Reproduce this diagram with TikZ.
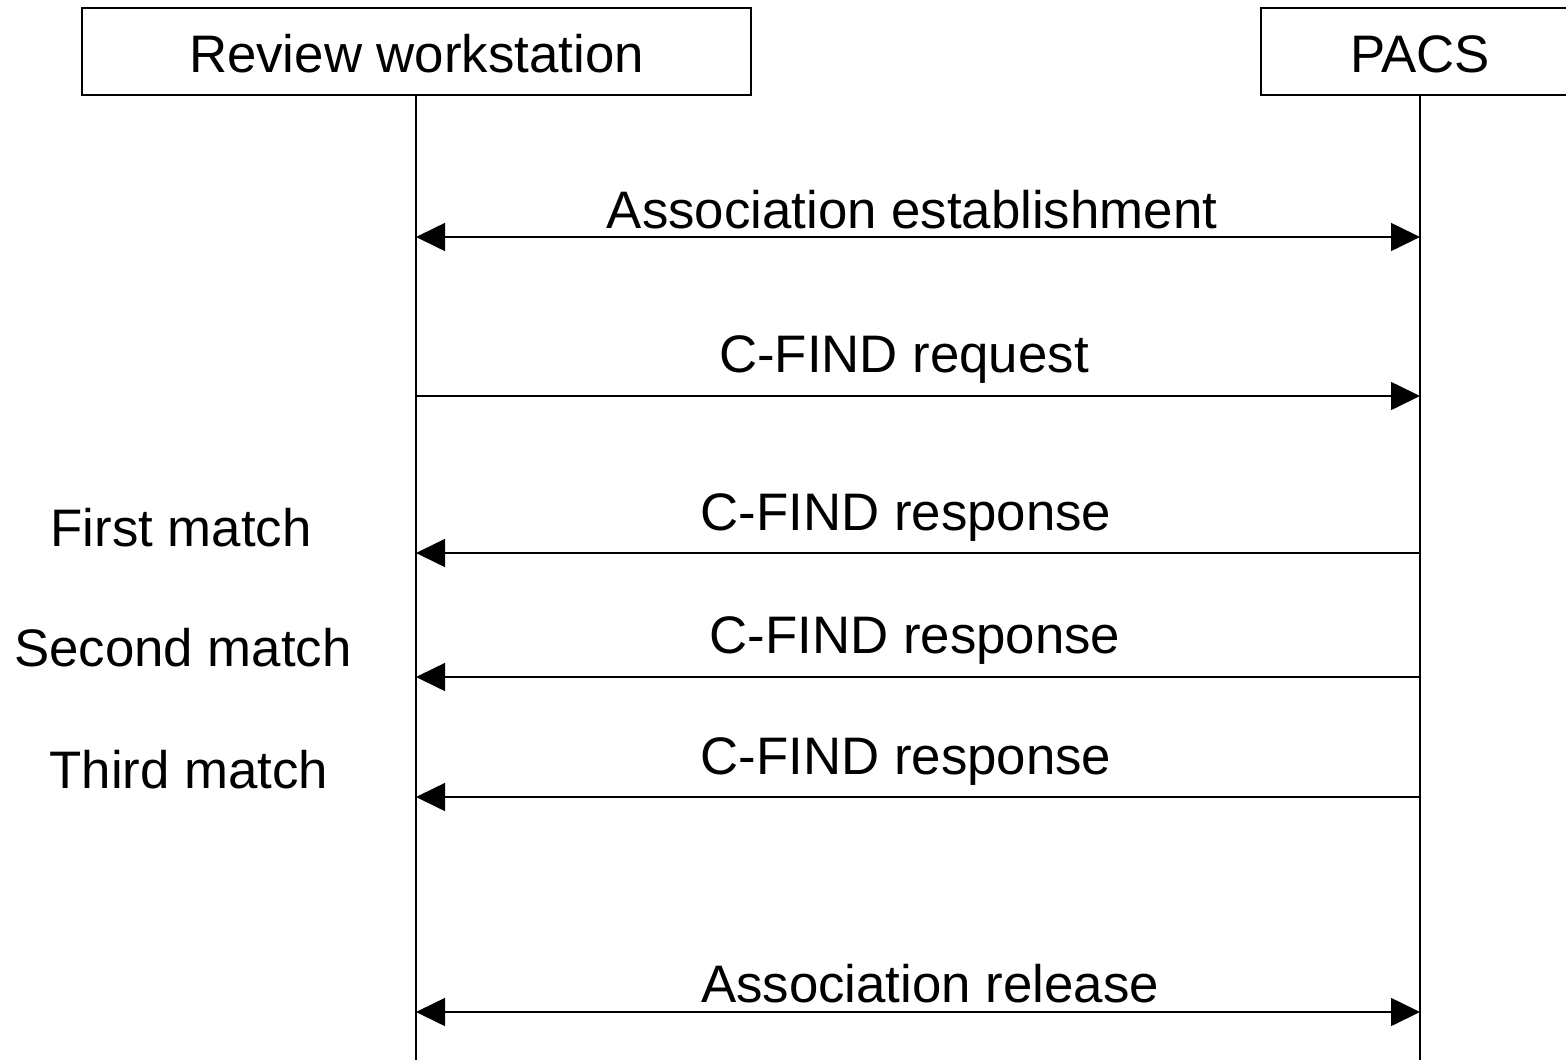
\documentclass[tikz,border=0pt]{standalone}
\usepackage{fontspec}
\setmainfont{Liberation Sans}
\usetikzlibrary{arrows.meta}
\begin{document}
\begin{tikzpicture}[x=1pt,y=-1pt,
  every node/.style={font=\fontsize{52.8}{60}\selectfont, inner sep=0pt},
  actor/.style={draw, line width=1.6pt, minimum height=87pt},
  life/.style={line width=1.6pt},
  msg/.style={line width=1.6pt, -{Triangle[length=29pt,width=28pt]}},
  bimsg/.style={line width=1.6pt, {Triangle[length=29pt,width=28pt]}-{Triangle[length=29pt,width=28pt]}},
  lbl/.style={anchor=base}]
  \useasboundingbox (0,0) rectangle (1566,1060);

  % participants
  \node[actor, minimum width=669pt] (ws) at (416.5,51.5) {};
  \node[lbl] at (416.5,72) {Review workstation};
  \node[actor, minimum width=318pt] (pacs) at (1420,51.5) {};
  \node[lbl] at (1420,72) {PACS};

  % lifelines
  \coordinate (wsend) at (416,1062);
  \coordinate (pacsend) at (1420,1062);
  \draw[life] (ws.south -| wsend) -- (wsend);
  \draw[life] (pacs.south -| pacsend) -- (pacsend);

  % message anchor points on the lifelines
  \foreach \n/\y in {1/237, 2/396, 3/553, 4/677, 5/797, 6/1012} {
    \coordinate (w\n) at (416,\y);
    \coordinate (p\n) at (1420,\y);
  }

  % messages
  \draw[bimsg] (w1) -- (p1);
  \node[lbl] at (912,228) {Association establishment};
  \draw[msg] (w2) -- (p2);
  \node[lbl] at (904,372) {C-FIND request};
  \draw[msg] (p3) -- (w3);
  \node[lbl] at (906,530) {C-FIND response};
  \draw[msg] (p4) -- (w4);
  \node[lbl] at (915,653) {C-FIND response};
  \draw[msg] (p5) -- (w5);
  \node[lbl] at (906,774) {C-FIND response};
  \draw[bimsg] (w6) -- (p6);
  \node[lbl] at (930,1002) {Association release};

  % side notes
  \node[lbl] (m1) at (181,546) {First match};
  \node[lbl] (m2) at (183,666) {Second match};
  \node[lbl] (m3) at (189,788) {Third match};
\end{tikzpicture}
\end{document}
